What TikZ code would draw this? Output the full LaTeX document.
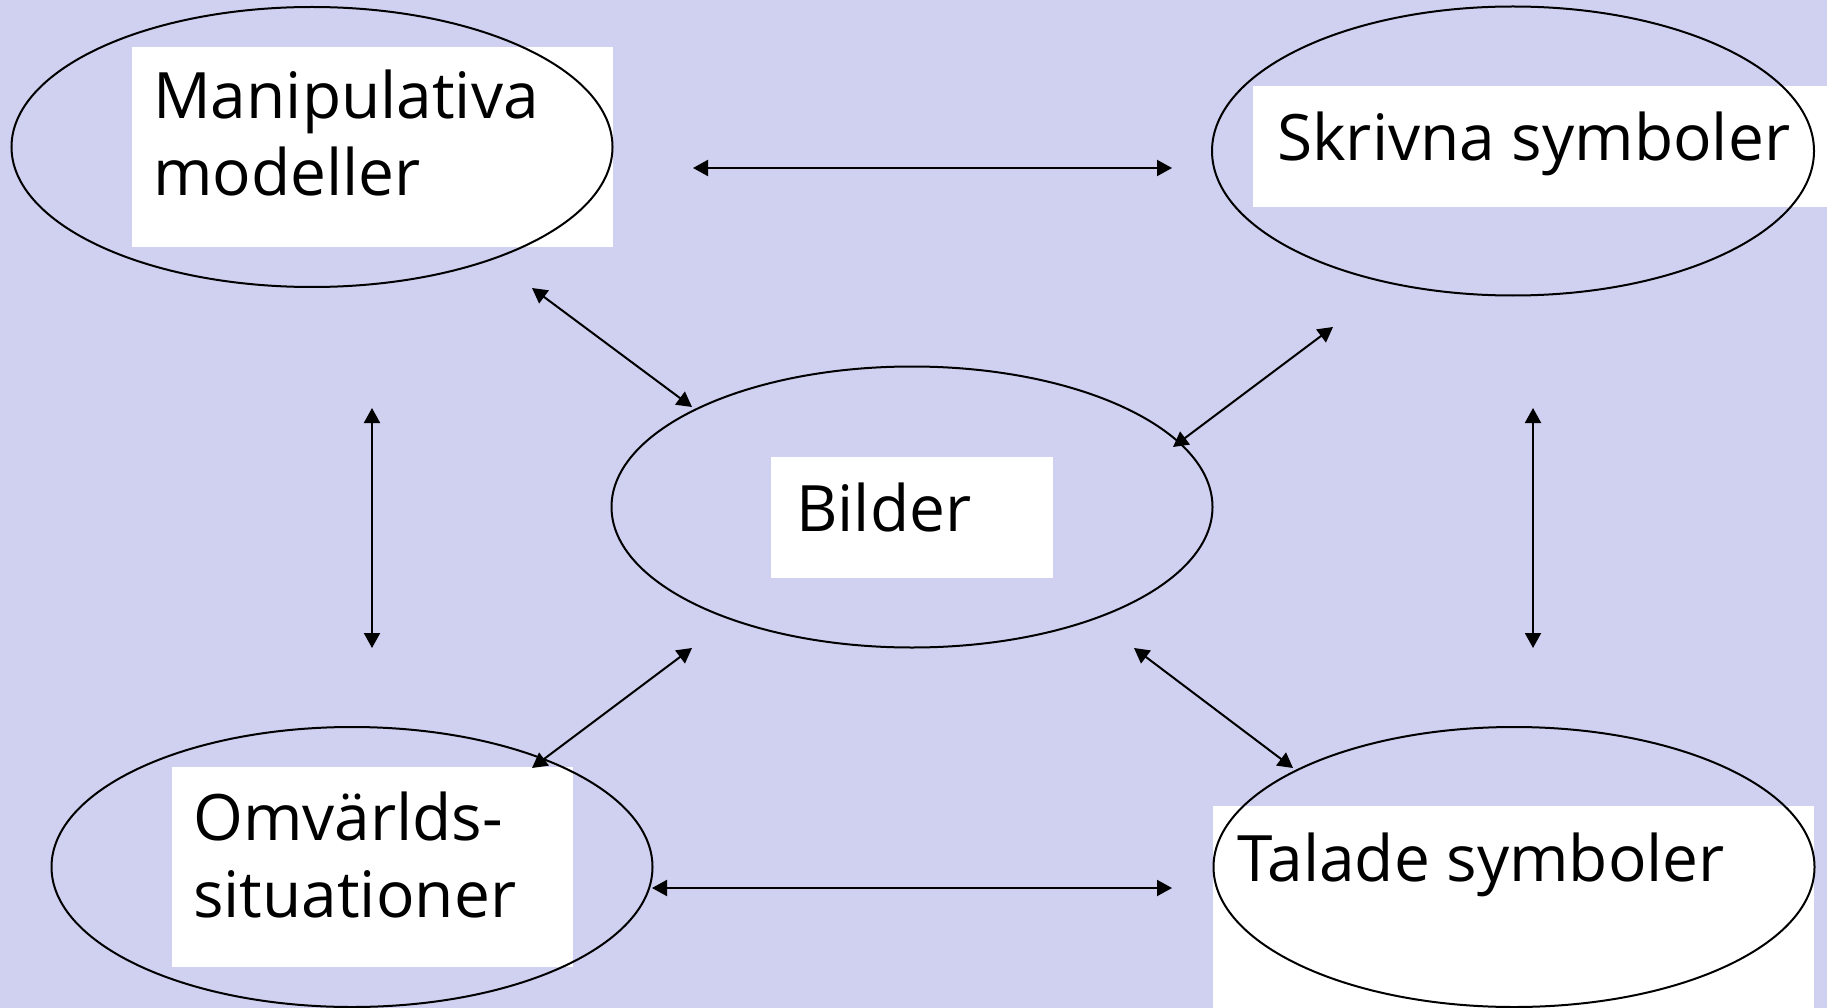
\documentclass[tikz,border=0pt]{standalone}
\usepackage{fontspec}
\setmainfont{Open Sans}
\usetikzlibrary{shapes.geometric,arrows.meta}
\definecolor{bg}{RGB}{208,209,240}
\begin{document}
\begin{tikzpicture}[x=1pt,y=-1pt,
  bubble/.style={ellipse, draw=black, line width=2pt, inner sep=0pt},
  whitebox/.style={fill=white, draw=none, inner sep=0pt, anchor=north west},
  txt/.style={font=\fontsize{64}{77}\selectfont, anchor=base west, inner sep=0pt, align=left},
  link/.style={line width=2pt, {Triangle[length=15pt,width=16pt]}-{Triangle[length=15pt,width=16pt]}}]
\fill[bg] (0,0) rectangle (1827,1008);
\useasboundingbox (0,0) rectangle (1827,1008);
% white text boxes
\node[whitebox, minimum width=481pt, minimum height=200pt] (boxM) at (132,47) {};
\node[whitebox, minimum width=575pt, minimum height=121pt] (boxS) at (1253,86) {};
\node[whitebox, minimum width=282pt, minimum height=121pt] (boxB) at (771,457) {};
\node[whitebox, minimum width=401pt, minimum height=200pt] (boxO) at (172,767) {};
\node[whitebox, minimum width=601pt, minimum height=202pt] (boxT) at (1213,806) {};
% ellipses
\node[bubble, minimum width=601pt, minimum height=280pt] (M) at (312,147) {};
\node[bubble, minimum width=602pt, minimum height=289pt] (S) at (1513,151) {};
\node[bubble, minimum width=601pt, minimum height=281pt] (B) at (912,507) {};
\node[bubble, minimum width=601pt, minimum height=280pt] (O) at (352,867) {};
\node[bubble, minimum width=601pt, minimum height=280pt] (T) at (1514,867) {};
% texts (base of the last line)
\node[txt] (tM) at (153,196) {Manipulativa\\modeller};
\node[txt] (tS) at (1277,161) {Skrivna symboler};
\node[txt] (tB) at (796,531) {Bilder};
\node[txt] (tO) at (193,917) {Omvärlds-\\situationer};
\node[txt] (tT) at (1237,881) {Talade symboler};
% arrow end points
\coordinate (a1) at (693,168);  \coordinate (a2) at (1172,168);
\coordinate (b1) at (652,888);  \coordinate (b2) at (1172,888);
\coordinate (c1) at (372,408);  \coordinate (c2) at (372,648);
\coordinate (d1) at (1533,408); \coordinate (d2) at (1533,648);
\coordinate (e1) at (532,288);  \coordinate (e2) at (692,407);
\coordinate (f1) at (1333,327); \coordinate (f2) at (1173,447);
\coordinate (g1) at (692,648);  \coordinate (g2) at (532,768);
\coordinate (h1) at (1134,648); \coordinate (h2) at (1293,768);
\draw[link] (a1) -- (a2);
\draw[link] (b1) -- (b2);
\draw[link] (c1) -- (c2);
\draw[link] (d1) -- (d2);
\draw[link] (e1) -- (e2);
\draw[link] (f1) -- (f2);
\draw[link] (g1) -- (g2);
\draw[link] (h1) -- (h2);
\end{tikzpicture}
\end{document}
